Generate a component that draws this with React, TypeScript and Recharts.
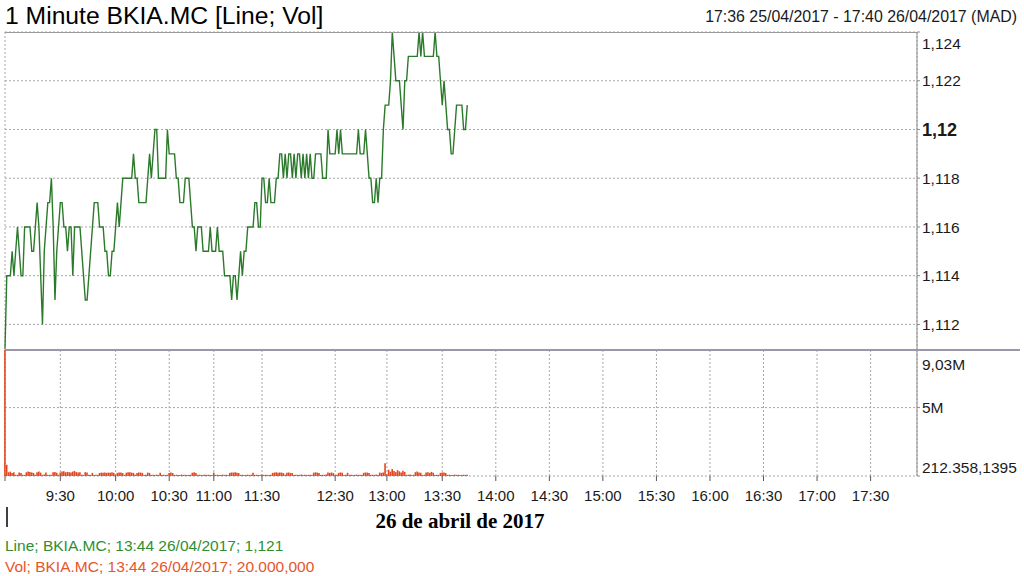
import React from "react";
import { LineChart, Line, BarChart, Bar, XAxis, YAxis, CartesianGrid } from "recharts";

// bar index of each time label (1 minute bars, gaps where nothing traded)
const timeTicks = [0, 31, 62, 92, 117, 144, 185, 214, 245, 275, 305, 335, 365, 395, 425, 455, 485];
const timeLabels = ["", "9:30", "10:00", "10:30", "11:00", "11:30", "12:30", "13:00", "13:30", "14:00", "14:30", "15:00", "15:30", "16:00", "16:30", "17:00", "17:30"];
const lastBarSlot = 511;

const priceTicks = [1.112, 1.114, 1.116, 1.118, 1.12, 1.122, 1.124];
const priceMin = 1.11095;
const priceMax = 1.124;

const volumeTicks = [212358.1395, 5000000, 9030000];
const volumeTickLabels = ["212.358,1395", "5M", "9,03M"];

// close of each 1 minute bar
const prices = [
  1.111, 1.114, 1.114, 1.114, 1.115, 1.114, 1.115, 1.116, 1.115, 1.114,
  1.114, 1.116, 1.116, 1.116, 1.116, 1.115, 1.115, 1.116, 1.117, 1.116,
  1.114, 1.112, 1.115, 1.116, 1.117, 1.117, 1.118, 1.116, 1.113, 1.115,
  1.116, 1.117, 1.117, 1.116, 1.116, 1.115, 1.116, 1.116, 1.114, 1.116,
  1.116, 1.116, 1.116, 1.115, 1.114, 1.113, 1.113, 1.114, 1.115, 1.116,
  1.117, 1.117, 1.117, 1.116, 1.116, 1.116, 1.115, 1.115, 1.114, 1.114,
  1.115, 1.115, 1.116, 1.117, 1.116, 1.117, 1.118, 1.118, 1.118, 1.118,
  1.118, 1.118, 1.119, 1.118, 1.118, 1.117, 1.117, 1.117, 1.117, 1.117,
  1.118, 1.119, 1.118, 1.119, 1.12, 1.12, 1.118, 1.118, 1.118, 1.118,
  1.118, 1.12, 1.119, 1.119, 1.119, 1.119, 1.118, 1.118, 1.117, 1.117,
  1.117, 1.118, 1.118, 1.118, 1.117, 1.116, 1.116, 1.115, 1.116, 1.116,
  1.116, 1.115, 1.115, 1.115, 1.115, 1.116, 1.115, 1.115, 1.115, 1.116,
  1.115, 1.115, 1.115, 1.114, 1.114, 1.114, 1.114, 1.113, 1.114, 1.114,
  1.113, 1.114, 1.115, 1.114, 1.115, 1.115, 1.116, 1.116, 1.116, 1.116,
  1.117, 1.117, 1.116, 1.116, 1.118, 1.118, 1.117, 1.117, 1.118, 1.117,
  1.117, 1.117, 1.118, 1.118, 1.119, 1.119, 1.118, 1.119, 1.118, 1.119,
  1.119, 1.118, 1.119, 1.118, 1.119, 1.119, 1.118, 1.119, 1.118, 1.119,
  1.118, 1.119, 1.118, 1.118, 1.119, 1.119, 1.119, 1.119, 1.118, 1.118,
  1.118, 1.12, 1.119, 1.119, 1.119, 1.119, 1.12, 1.119, 1.12, 1.119,
  1.119, 1.119, 1.119, 1.119, 1.119, 1.119, 1.119, 1.119, 1.12, 1.119,
  1.119, 1.119, 1.12, 1.119, 1.118, 1.118, 1.117, 1.117, 1.118, 1.117,
  1.118, 1.118, 1.12, 1.121, 1.121, 1.121, 1.122, 1.124, 1.123, 1.122,
  1.122, 1.122, 1.121, 1.12, 1.122, 1.122, 1.123, 1.123, 1.123, 1.123,
  1.123, 1.123, 1.124, 1.123, 1.124, 1.123, 1.123, 1.123, 1.123, 1.123,
  1.123, 1.124, 1.123, 1.123, 1.122, 1.121, 1.122, 1.121, 1.12, 1.12,
  1.119, 1.119, 1.12, 1.121, 1.121, 1.121, 1.121, 1.12, 1.12, 1.121,
];

// volume per bar, thousands of shares
const volumesK = [
  9030, 1000, 480, 520, 430, 470, 290, 300, 450, 430,
  300, 290, 470, 520, 500, 460, 430, 300, 480, 530,
  450, 290, 310, 460, 290, 300, 290, 480, 500, 440,
  300, 460, 520, 540, 470, 500, 480, 450, 520, 560,
  490, 450, 470, 300, 290, 480, 450, 300, 290, 430,
  290, 300, 290, 420, 450, 440, 460, 430, 450, 440,
  470, 430, 300, 430, 460, 450, 420, 290, 440, 480,
  470, 450, 430, 300, 420, 460, 450, 430, 290, 300,
  450, 430, 290, 300, 290, 310, 290, 440, 290, 300,
  290, 300, 430, 450, 420, 290, 300, 290, 290, 310,
  290, 300, 290, 290, 300, 440, 470, 430, 290, 300,
  290, 290, 310, 290, 300, 290, 290, 450, 290, 300,
  290, 290, 310, 290, 300, 290, 430, 460, 450, 470,
  440, 420, 290, 300, 290, 290, 310, 290, 300, 440,
  290, 300, 290, 290, 310, 290, 300, 290, 290, 300,
  430, 450, 470, 440, 460, 450, 420, 300, 440, 460,
  430, 420, 290, 300, 290, 290, 310, 290, 300, 290,
  290, 300, 290, 440, 470, 450, 430, 290, 300, 290,
  310, 450, 430, 460, 420, 290, 300, 430, 460, 440,
  290, 300, 440, 290, 300, 290, 290, 310, 290, 300,
  290, 430, 460, 450, 420, 290, 300, 290, 310, 290,
  450, 430, 460, 1100, 330, 650, 520, 700, 560, 480,
  620, 540, 450, 580, 500, 290, 300, 310, 290, 300,
  480, 520, 460, 440, 290, 300, 450, 470, 430, 500,
  440, 290, 300, 290, 430, 460, 450, 420, 290, 300,
  290, 290, 310, 290, 300, 290, 290, 300, 290, 300,
];

const FONT = "'Liberation Sans', Arial, sans-serif";
const GRID = "#a8a8a8";
const AXIS = "#8c8c8c";
const GREEN = "#2b7a2b";
const RED = "#e4471f";

const priceData = prices.map((p, i) => ({ i, p }));
const volumeData = volumesK.map((v, i) => ({ i, v: v * 1000 }));

function PriceTick(props: any) {
  const { x, y, payload } = props;
  const v = payload.value;
  const bold = Math.abs(v - 1.12) < 1e-9;
  const shift = v >= priceMax - 1e-9 ? 11 : 0;
  const label = String(Number(v.toFixed(3))).replace(".", ",");
  return (
    <text x={x} y={y + shift} dy="0.36em" textAnchor="start" fontFamily={FONT}
      fontSize={bold ? 18 : 15.5} fontWeight={bold ? 700 : 400} fill="#1a1a1a">
      {label}
    </text>
  );
}

function VolumeTick(props: any) {
  const { x, y, payload } = props;
  const k = volumeTicks.indexOf(payload.value);
  const shift = k === volumeTicks.length - 1 ? 14 : k === 0 ? -9 : 0;
  return (
    <text x={x} y={y + shift} dy="0.36em" textAnchor="start" fontFamily={FONT} fontSize={15.5} fill="#1a1a1a">
      {volumeTickLabels[k]}
    </text>
  );
}

function TimeTick(props: any) {
  const { x, y, payload } = props;
  const k = timeTicks.indexOf(payload.value);
  return (
    <text x={x} y={y} dy="0.71em" textAnchor="middle" fontFamily={FONT} fontSize={15} fill="#1a1a1a">
      {timeLabels[k]}
    </text>
  );
}

export default function App() {
  return (
    <div style={{ position: "fixed", left: 0, top: 0, width: 1024, height: 576, background: "#fff", overflow: "hidden" }}>
      <svg width={1024} height={576} style={{ position: "absolute", left: 0, top: 0 }}>
        <text x={5} y={24} fontFamily={FONT} fontSize={24.7} fill="#000">1 Minute BKIA.MC [Line; Vol]</text>
        <text x={1017} y={22} textAnchor="end" fontFamily={FONT} fontSize={15.9} fill="#1a1a1a">
          17:36 25/04/2017 - 17:40 26/04/2017 (MAD)
        </text>
        <line x1={7} x2={7} y1={507} y2={527} stroke="#000" strokeWidth={1.5} />
        <text x={460} y={528} textAnchor="middle" fontFamily="'Liberation Serif', 'Times New Roman', serif"
          fontWeight={700} fontSize={21} fill="#000">
          26 de abril de 2017
        </text>
        <text x={5} y={551} fontFamily={FONT} fontSize={15.5} fill="#2f8f2f">Line; BKIA.MC; 13:44 26/04/2017; 1,121</text>
        <text x={5} y={572} fontFamily={FONT} fontSize={15.5} fill="#e8552a">Vol; BKIA.MC; 13:44 26/04/2017; 20.000,000</text>
      </svg>

      <div style={{ position: "absolute", left: 0, top: 0 }}>
        <LineChart width={1024} height={350} data={priceData} margin={{ top: 32, right: 7, bottom: 0, left: 5 }}>
          <CartesianGrid stroke={GRID} strokeDasharray="2 2" />
          <XAxis dataKey="i" type="number" domain={[0, lastBarSlot]} ticks={timeTicks} interval={0}
            height={0} tick={false} axisLine={false} tickLine={false} />
          <YAxis orientation="right" type="number" domain={[priceMin, priceMax]} ticks={priceTicks} interval={0}
            allowDataOverflow width={100} tickSize={3} tickMargin={2}
            axisLine={{ stroke: AXIS }} tickLine={{ stroke: AXIS }} tick={(p: any) => <PriceTick {...p} />} />
          <Line type="linear" dataKey="p" stroke={GREEN} strokeWidth={1.4} dot={false} isAnimationActive={false} />
        </LineChart>
      </div>

      <div style={{ position: "absolute", left: 0, top: 350 }}>
        <BarChart width={1024} height={160} data={volumeData} margin={{ top: 0, right: 7, bottom: 0, left: 5 }}>
          <CartesianGrid stroke={GRID} strokeDasharray="2 2" />
          <XAxis dataKey="i" type="number" domain={[0, lastBarSlot]} ticks={timeTicks} interval={0}
            height={34} tickSize={5} tickMargin={9} axisLine={false} tickLine={{ stroke: "#555" }}
            tick={(p: any) => <TimeTick {...p} />} />
          <YAxis orientation="right" type="number" domain={[volumeTicks[0], volumeTicks[2]]} ticks={volumeTicks}
            interval={0} allowDataOverflow width={100} tickSize={3} tickMargin={2}
            axisLine={{ stroke: AXIS }} tickLine={{ stroke: AXIS }} tick={(p: any) => <VolumeTick {...p} />} />
          <Bar dataKey="v" fill={RED} barSize={2} isAnimationActive={false} />
        </BarChart>
      </div>

      <div style={{ position: "absolute", left: 5, top: 32, width: 912, height: 1, background: "#9a9a9a" }} />
      <div style={{ position: "absolute", left: 5, top: 349, width: 1015, height: 2, background: "#9898aa" }} />
    </div>
  );
}
